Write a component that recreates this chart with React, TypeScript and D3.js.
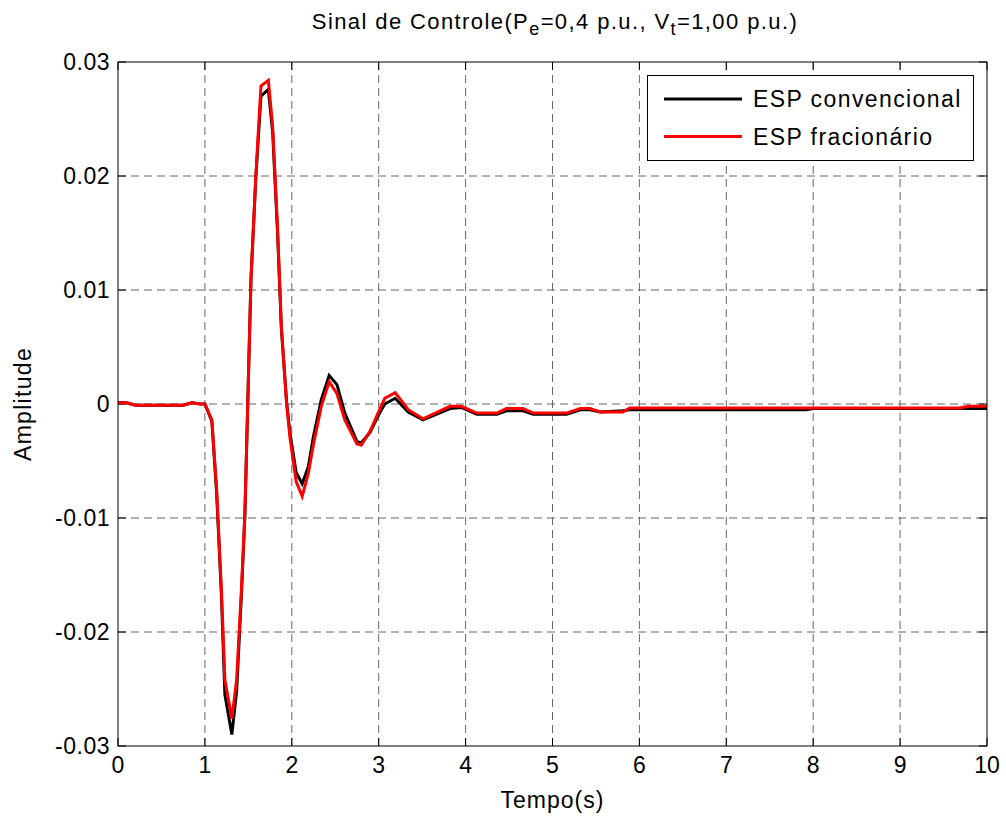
import React from "react";
import * as d3 from "d3";

const time = [0, 0.1, 0.2, 0.5, 0.75, 0.85, 0.95, 1.0, 1.08, 1.135, 1.19, 1.23, 1.31, 1.365, 1.42, 1.46, 1.49, 1.53, 1.585, 1.645, 1.73, 1.78, 1.835, 1.88, 1.94, 1.98, 2.05, 2.12, 2.19, 2.25, 2.34, 2.43, 2.52, 2.61, 2.75, 2.8, 2.9, 3.01, 3.07, 3.19, 3.34, 3.51, 3.82, 3.95, 4.13, 4.36, 4.47, 4.66, 4.78, 5.16, 5.32, 5.43, 5.55, 5.81, 5.89, 7.92, 8.0, 9.69, 9.78, 10];

const espConvencional = [0.0001, 0.0001, -0.0001, -0.0001, -0.0001, 0.0001, 0, 0, -0.0015, -0.0078, -0.0168, -0.0255, -0.029, -0.0252, -0.0168, -0.0098, -0.0008, 0.0109, 0.0197, 0.027, 0.0276, 0.0238, 0.0152, 0.0066, 0.0002, -0.0026, -0.006, -0.007, -0.0055, -0.0028, 0.0004, 0.0025, 0.0017, -0.0008, -0.0033, -0.0034, -0.0025, -0.0008, 0.0, 0.0005, -0.0007, -0.0014, -0.0004, -0.0003, -0.0009, -0.0009, -0.0006, -0.0006, -0.0009, -0.0009, -0.0005, -0.0005, -0.0007, -0.0006, -0.0005, -0.0005, -0.0004, -0.0004, -0.0004, -0.0004];

const espFracionario = [0.0001, 0.0001, -0.0001, -0.0001, -0.0001, 0.0001, 0, 0, -0.0014, -0.0075, -0.0163, -0.0242, -0.0276, -0.0242, -0.0163, -0.0096, -0.001, 0.0109, 0.0199, 0.0279, 0.0284, 0.0243, 0.0156, 0.0068, 0.0, -0.003, -0.0068, -0.0081, -0.0061, -0.0035, -0.0002, 0.00196, 0.0009, -0.0014, -0.0035, -0.0036, -0.0024, -0.0005, 0.0005, 0.001, -0.0005, -0.0013, -0.0002, -0.0002, -0.0008, -0.0008, -0.0004, -0.0004, -0.0008, -0.0008, -0.0004, -0.0004, -0.0007, -0.0007, -0.00035, -0.00035, -0.00035, -0.00035, -0.0002, -0.0002];

const xTicks = [0, 1, 2, 3, 4, 5, 6, 7, 8, 9, 10];
const yTicks = [0.03, 0.02, 0.01, 0, -0.01, -0.02, -0.03];
const yTickLabels = ["0.03", "0.02", "0.01", "0", "-0.01", "-0.02", "-0.03"];
const seriesNames = ["ESP convencional", "ESP fracionário"];
const seriesColors = ["#000000", "#ff0000"];

const W = 1006, H = 816;
const L = 118, R = 987, T = 62, B = 746;
const FONT = "'Liberation Sans', Arial, Helvetica, sans-serif";

export default function App() {
  const x = d3.scaleLinear().domain([0, 10]).range([L, R]);
  const y = d3.scaleLinear().domain([-0.03, 0.03]).range([B, T]);
  const line = d3.line<number>().x((_, i) => x(time[i])).y((d) => y(d));
  const series = [espConvencional, espFracionario];
  const tickLen = 8;

  return (
    <svg width={W} height={H} style={{ position: "absolute", left: 0, top: 0, background: "#fff" }} fontFamily={FONT}>
      <rect x={0} y={0} width={W} height={H} fill="#fff" />
      <rect x={L} y={T} width={R - L} height={B - T} fill="#fff" />
      {/* grid */}
      {xTicks.slice(1, -1).map((t) => (
        <line key={"gx" + t} x1={x(t)} x2={x(t)} y1={T} y2={B} stroke="#666" strokeWidth={1} strokeDasharray="8,5" />
      ))}
      {yTicks.slice(1, -1).map((t) => (
        <line key={"gy" + t} x1={L} x2={R} y1={y(t)} y2={y(t)} stroke="#666" strokeWidth={1} strokeDasharray="8,5" />
      ))}
      {/* ticks */}
      {xTicks.map((t) => (
        <g key={"tx" + t}>
          <line x1={x(t)} x2={x(t)} y1={B} y2={B - tickLen} stroke="#000" />
          <line x1={x(t)} x2={x(t)} y1={T} y2={T + tickLen} stroke="#000" />
          <text x={x(t)} y={B + 27} fontSize={23} textAnchor="middle">{t}</text>
        </g>
      ))}
      {yTicks.map((t, i) => (
        <g key={"ty" + t}>
          <line x1={L} x2={L + tickLen} y1={y(t)} y2={y(t)} stroke="#000" />
          <line x1={R} x2={R - tickLen} y1={y(t)} y2={y(t)} stroke="#000" />
          <text x={L - 8} y={y(t) + 8} fontSize={23} letterSpacing={0.5} textAnchor="end">{yTickLabels[i]}</text>
        </g>
      ))}
      {/* series */}
      <g>
        {series.map((s, i) => (
          <path key={"s" + i} d={line(s) || ""} fill="none" stroke={seriesColors[i]} strokeWidth={3} strokeLinejoin="miter" />
        ))}
      </g>
      {/* box */}
      <rect x={L} y={T} width={R - L} height={B - T} fill="none" stroke="#000" strokeWidth={1} />
      {/* legend */}
      <rect x={647.5} y={75.5} width={326} height={85} fill="#fff" stroke="#000" strokeWidth={1} />
      {seriesNames.map((n, i) => (
        <g key={"lg" + i}>
          <line x1={664} x2={742} y1={99 + i * 37.5} y2={99 + i * 37.5} stroke={seriesColors[i]} strokeWidth={3} />
          <text x={753} y={107 + i * 37.5} fontSize={23} letterSpacing={1.4}>{n}</text>
        </g>
      ))}
      {/* title */}
      <text x={555} y={29} fontSize={22} letterSpacing={1.4} textAnchor="middle">
        Sinal de Controle(P<tspan dy={6} fontSize={18}>e</tspan><tspan dy={-6}>=0,4 p.u., V</tspan><tspan dy={6} fontSize={18}>t</tspan><tspan dy={-6}>=1,00 p.u.)</tspan>
      </text>
      {/* axis labels */}
      <text x={(L + R) / 2} y={808} fontSize={23} letterSpacing={1} textAnchor="middle">Tempo(s)</text>
      <text transform={`translate(31, ${(T + B) / 2}) rotate(-90)`} fontSize={23} letterSpacing={1.3} textAnchor="middle">Amplitude</text>
    </svg>
  );
}
